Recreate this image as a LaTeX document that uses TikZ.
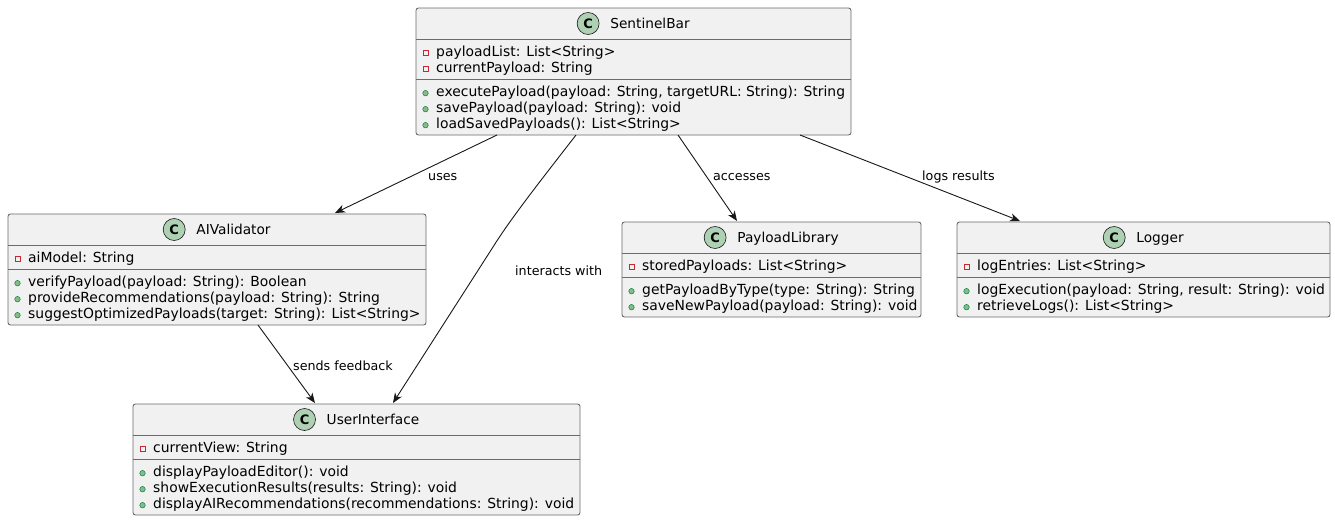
\documentclass[tikz,border=0pt]{standalone}
\usepackage{fontspec}
\setmainfont{DejaVu Sans}
\usetikzlibrary{arrows.meta}
\definecolor{boxfill}{HTML}{F1F1F1}
\definecolor{boxline}{HTML}{6B6B6B}
\definecolor{edgecol}{HTML}{181818}
\definecolor{circfill}{HTML}{ADD1B2}
\definecolor{privred}{HTML}{C82930}
\definecolor{pubfill}{HTML}{84BE84}
\definecolor{publine}{HTML}{038048}

\tikzset{
 classbox/.style={draw=boxline, fill=boxfill, line width=0.9pt, rounded corners=2.5pt, inner sep=0, outer sep=0, anchor=north west},
 sepline/.style={draw=boxline, line width=0.9pt},
 cmark/.style={circle, draw=edgecol, line width=0.6pt, fill=circfill, minimum size=22pt, inner sep=0, font=\fontsize{13}{13}\selectfont\bfseries},
 titletext/.style={inner sep=0, font=\fontsize{13.7}{16}\selectfont},
 member/.style={inner sep=0, anchor=base west, font=\fontsize{13.9}{16}\selectfont, text=black},
 privmark/.style={rectangle, draw=privred, line width=0.7pt, minimum size=5pt, inner sep=0},
 pubmark/.style={circle, draw=publine, fill=pubfill, line width=0.5pt, minimum size=5.5pt, inner sep=0},
 assoc/.style={draw=edgecol, line width=0.9pt, -{Stealth[length=10pt,width=8pt,inset=3pt]}},
 elabel/.style={inner sep=0, anchor=base west, font=\fontsize{12.7}{15}\selectfont},
}

% #1 name #2 x #3 y #4 width #5 title #6 nattr #7 nmeth #8 attrs #9 methods
\newcommand\umlclass[9]{%
 \pgfmathsetmacro\hA{16*#6+8}%
 \pgfmathsetmacro\hM{16*#7+8}%
 \pgfmathsetmacro\hT{31+\hA+\hM}%
 \node[classbox, minimum width=#4pt, minimum height=\hT pt] (#1) at (#2,#3) {};
 \draw[sepline] ([yshift=-31pt]#1.north west) -- ([yshift=-31pt]#1.north east);
 \draw[sepline] ([yshift=-31pt-\hA pt]#1.north west) -- ([yshift=-31pt-\hA pt]#1.north east);
 \node[titletext, anchor=base] (#1-title) at ([xshift=16.5pt, yshift=-20.5pt]#1.north) {#5};
 \node[cmark] (#1-c) at ([xshift=-22pt, yshift=5pt]#1-title.base west) {C};
 \foreach \mem [count=\i] in {#8} {
   \node[privmark] (#1-pa\i) at ([xshift=9.5pt, yshift=-31pt-17pt-16pt*(\i-1)+2.8pt]#1.north west) {};
   \node[member] (#1-a\i) at ([xshift=20pt, yshift=-31pt-17pt-16pt*(\i-1)]#1.north west) {\mem};
 }
 \foreach \mem [count=\i] in {#9} {
   \node[pubmark] (#1-pm\i) at ([xshift=9.5pt, yshift=-31pt-\hA pt-17pt-16pt*(\i-1)+2.8pt]#1.north west) {};
   \node[member] (#1-m\i) at ([xshift=20pt, yshift=-31pt-\hA pt-17pt-16pt*(\i-1)]#1.north west) {\mem};
 }
}

\begin{document}
\begin{tikzpicture}[x=1pt, y=-1pt]
\useasboundingbox (0,0) rectangle (1335,522);
\fill[white] (0,0) rectangle (1335,522);

\umlclass{sb}{416}{8}{435}{SentinelBar}{2}{3}%
 {{payloadList: List<String>},{currentPayload: String}}%
 {{executePayload(payload: String, targetURL: String): String},{savePayload(payload: String): void},{loadSavedPayloads(): List<String>}}

\umlclass{aiv}{8}{214}{418}{AIValidator}{1}{3}%
 {{aiModel: String}}%
 {{verifyPayload(payload: String): Boolean},{provideRecommendations(payload: String): String},{suggestOptimizedPayloads(target: String): List<String>}}

\umlclass{ui}{133}{404}{447}{UserInterface}{1}{3}%
 {{currentView: String}}%
 {{displayPayloadEditor(): void},{showExecutionResults(results: String): void},{displayAIRecommendations(recommendations: String): void}}

\umlclass{pl}{622}{222}{299}{PayloadLibrary}{1}{2}%
 {{storedPayloads: List<String>}}%
 {{getPayloadByType(type: String): String},{saveNewPayload(payload: String): void}}

\umlclass{lg}{957}{222}{373}{Logger}{1}{2}%
 {{logEntries: List<String>}}%
 {{logExecution(payload: String, result: String): void},{retrieveLogs(): List<String>}}

% connectors
\coordinate (bend) at (493,247);
\draw[assoc] ([xshift=81pt]sb.south west) -- ([xshift=327pt, yshift=1pt]aiv.north west);
\draw[assoc] ([xshift=160pt]sb.south west) .. controls (545,175) and (511,218) .. (bend) -- ([xshift=260pt, yshift=1pt]ui.north west);
\draw[assoc] ([xshift=262pt]sb.south west) -- ([xshift=115pt, yshift=1pt]pl.north west);
\draw[assoc] ([xshift=384pt]sb.south west) -- ([xshift=63pt, yshift=1pt]lg.north west);
\draw[assoc] ([xshift=250pt]aiv.south west) -- ([xshift=182pt, yshift=1pt]ui.north west);

% labels
\node[elabel] (l-uses) at (428,180) {uses};
\node[elabel] (l-acc) at (713,180) {accesses};
\node[elabel] (l-logs) at (922,180) {logs results};
\node[elabel] (l-int) at (515,275) {interacts with};
\node[elabel] (l-fb) at (293,370) {sends feedback};
\end{tikzpicture}
\end{document}
